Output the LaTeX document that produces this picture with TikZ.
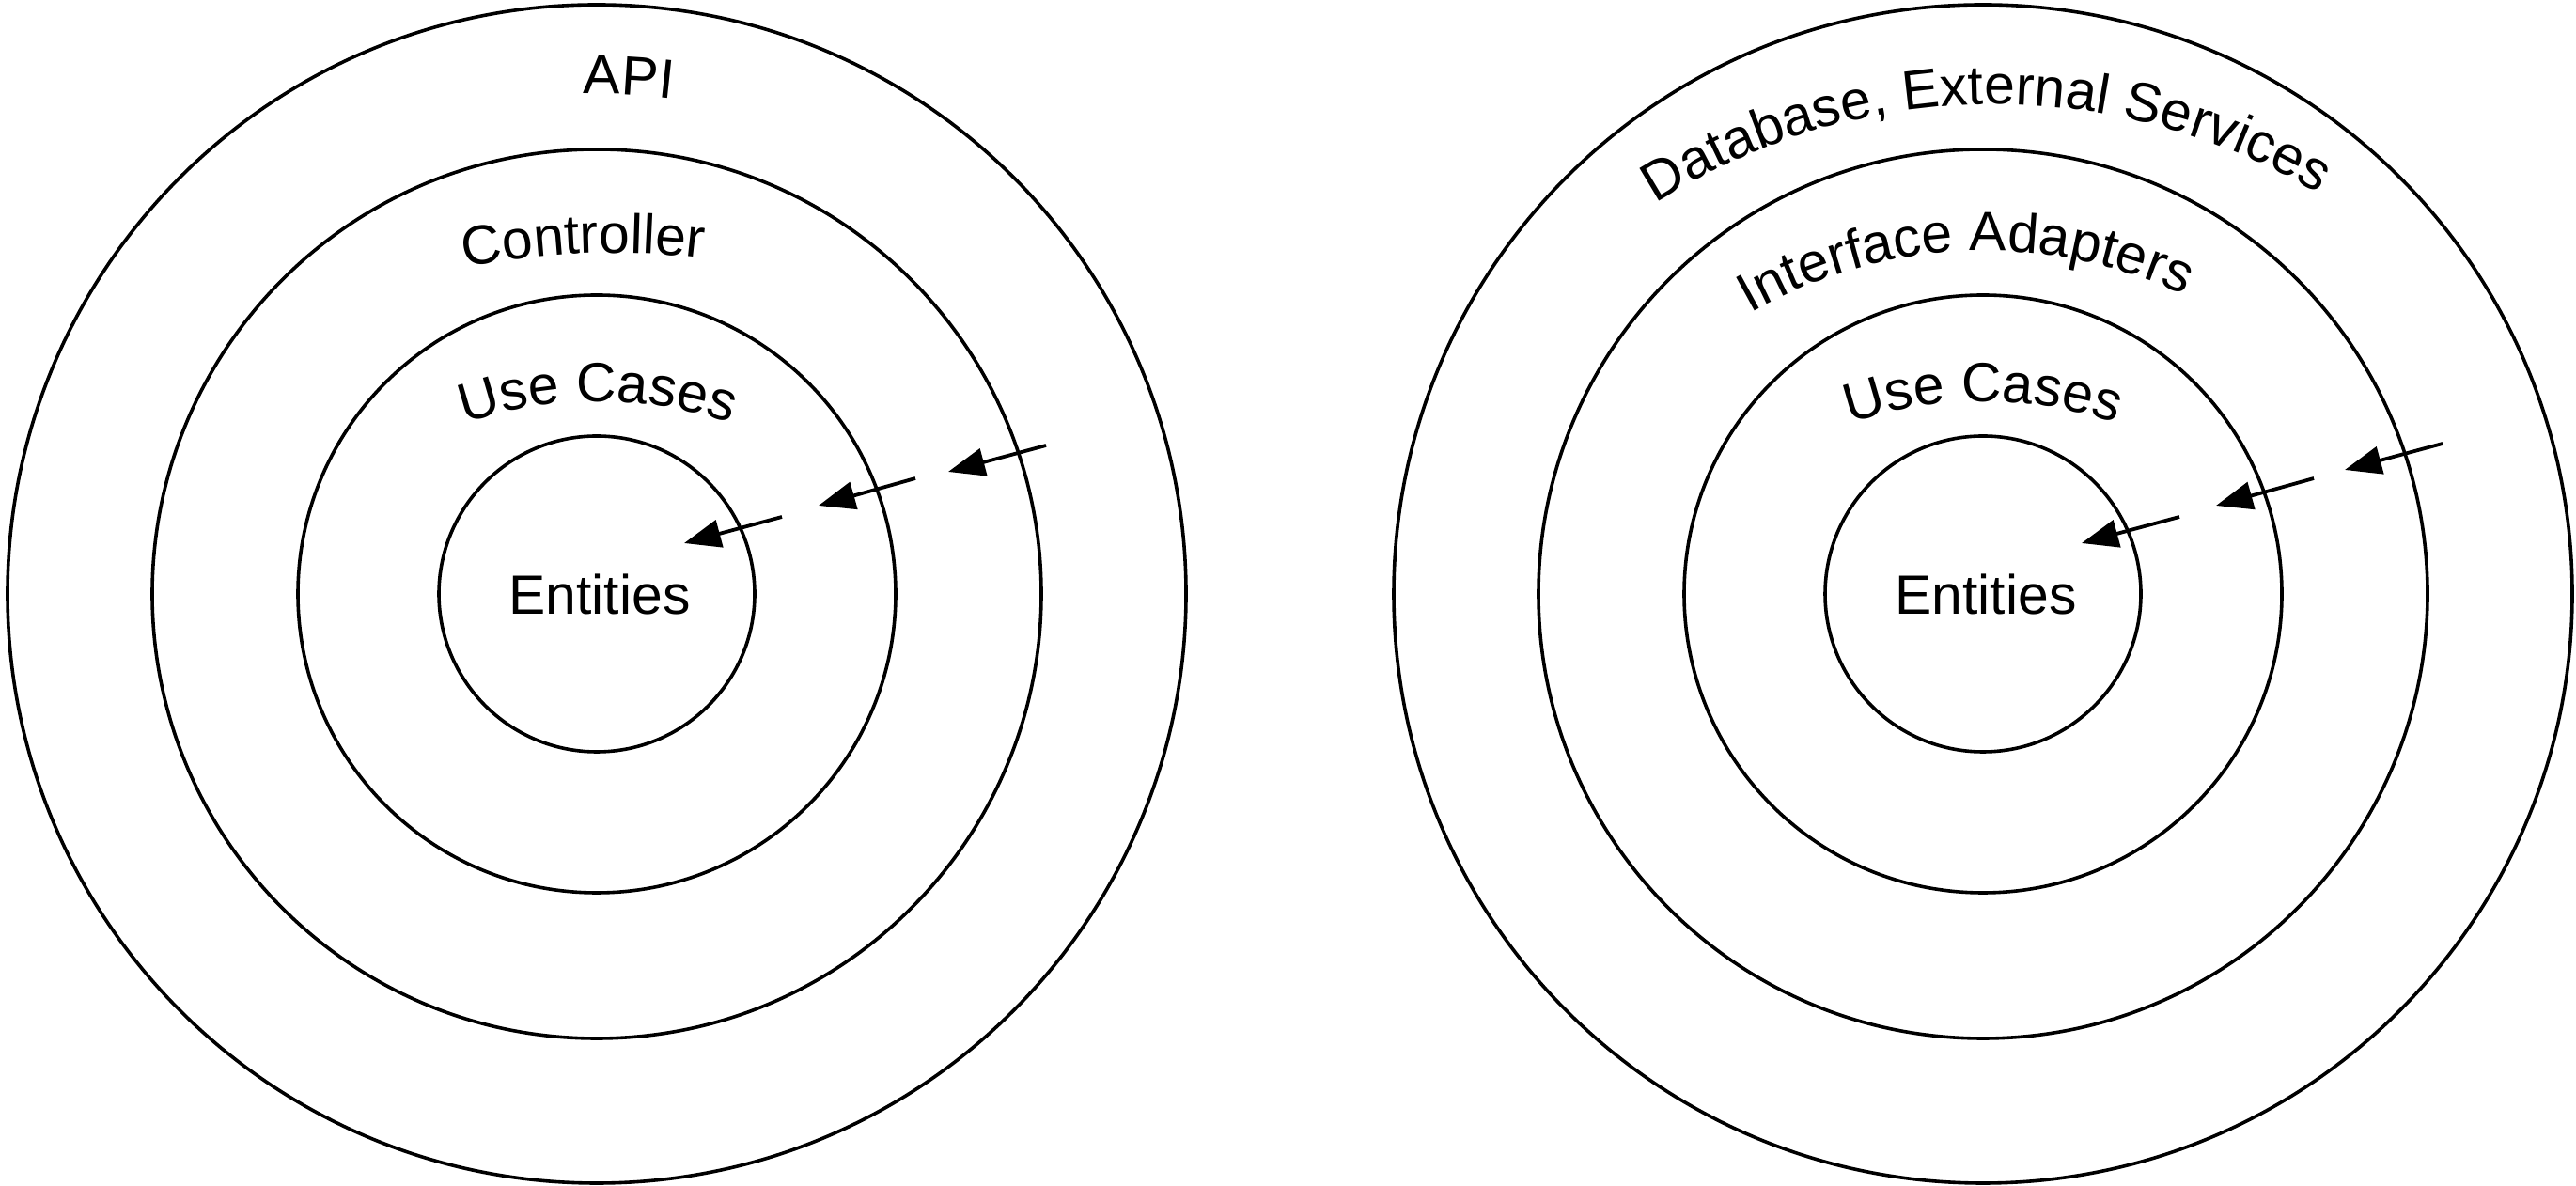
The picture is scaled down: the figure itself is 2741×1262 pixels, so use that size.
\documentclass[tikz,border=0pt]{standalone}
\usepackage{fontspec}
\setmainfont{Liberation Sans}
\usetikzlibrary{arrows.meta,decorations.text}
\newcommand\lblfont{\fontsize{14.7pt}{17pt}\selectfont}
\begin{document}
\begin{tikzpicture}[x=0.25pt,y=0.25pt,
  ring/.style={draw=black, line width=0.9pt},
  arr/.style={draw=black, line width=0.95pt, -{Triangle[length=9.75pt,width=7.4pt]}},
  curv/.style={decorate, decoration={text along path, text align=center, text={#1}}},
  lbl/.style={font=\lblfont, inner sep=0pt}]
\useasboundingbox (0,0) rectangle (2741,1262);
\fill[white] (0,0) rectangle (2741,1262);
% centres
\coordinate (cL) at (635,630);
\coordinate (cR) at (2110,630);
% left rings
\draw[ring] (cL) circle[radius=627];
\draw[ring] (cL) circle[radius=473];
\draw[ring] (cL) circle[radius=318];
\draw[ring] (cL) circle[radius=168];
% right rings
\draw[ring] (cR) circle[radius=627];
\draw[ring] (cR) circle[radius=473];
\draw[ring] (cR) circle[radius=318];
\draw[ring] (cR) circle[radius=168];
% centre labels
\node[lbl] (entL) at (638,630) {Entities};
\node[lbl] (entR) at (2113,630) {Entities};
% curved labels, left
\path[curv={|\lblfont|API}] ([shift={(97.2:679)}]635,483) arc[start angle=97.2, end angle=77.2, radius=679];
\path[curv={|\lblfont|Controller}] ([shift={(107.2:803)}]652,190) arc[start angle=107.2, end angle=77.2, radius=803];
\path[curv={|\lblfont|Use Cases}] ([shift={(120:431)}]636,404) arc[start angle=120, end angle=60, radius=431];
% curved labels, right
\path[curv={|\lblfont|Database, External Services}] ([shift={(130.8:668)}]2122,483) arc[start angle=130.8, end angle=50.8, radius=668];
\path[curv={|\lblfont|Interface Adapters}] ([shift={(127.4:505)}]2112,490) arc[start angle=127.4, end angle=57.4, radius=505];
\path[curv={|\lblfont|Use Cases}] ([shift={(120:431)}]2110,404) arc[start angle=120, end angle=60, radius=431];
% arrows, left
\coordinate (la1) at (1113,788); \coordinate (lb1) at (1009,760);
\coordinate (la2) at (974,753);  \coordinate (lb2) at (871,724);
\coordinate (la3) at (832,712);  \coordinate (lb3) at (728,684);
\draw[arr] (la1) -- (lb1);
\draw[arr] (la2) -- (lb2);
\draw[arr] (la3) -- (lb3);
% arrows, right
\coordinate (ra1) at (2599,790); \coordinate (rb1) at (2495,762);
\coordinate (ra2) at (2462,753); \coordinate (rb2) at (2358,724);
\coordinate (ra3) at (2319,712); \coordinate (rb3) at (2215,684);
\draw[arr] (ra1) -- (rb1);
\draw[arr] (ra2) -- (rb2);
\draw[arr] (ra3) -- (rb3);
\end{tikzpicture}
\end{document}
